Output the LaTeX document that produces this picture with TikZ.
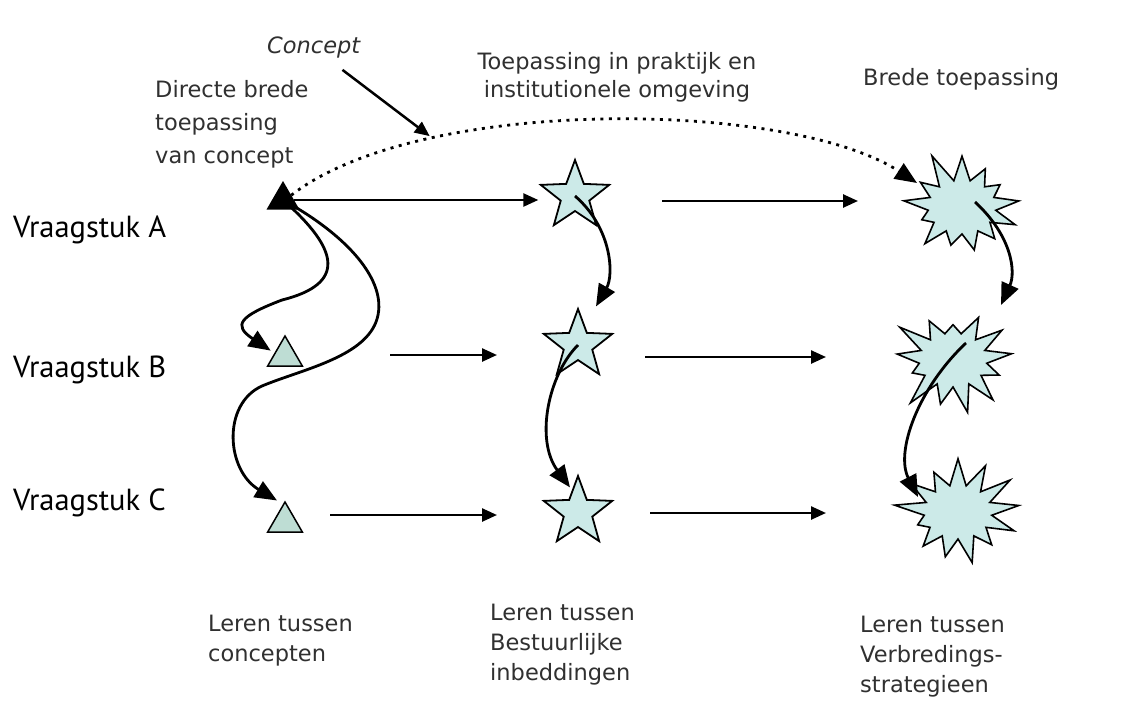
\documentclass[tikz,border=0pt]{standalone}
\usepackage{fontspec}
\setmainfont{DejaVu Sans}
\newfontfamily\vraagfont{PT Sans}
\usepackage{xcolor}
\usetikzlibrary{shapes.geometric,shapes.symbols,arrows.meta}

\definecolor{mint}{HTML}{CCEAE8}
\definecolor{mintgrey}{HTML}{BEDDD4}
\definecolor{inkgrey}{HTML}{303030}

\begin{document}
\begin{tikzpicture}[x=1pt, y=-1pt,
  tri/.style={regular polygon, regular polygon sides=3, draw, line width=1.5pt,
    fill=mintgrey, minimum size=40pt, inner sep=0pt},
  starnode/.style={star, star points=5, star point ratio=2.4, draw, line width=1.8pt,
    fill=mint, minimum size=72pt, inner sep=0pt},
  burst/.style={starburst, starburst points=13, starburst point height=32pt, draw,
    line width=1.6pt, fill=mint, minimum width=132pt, minimum height=118pt, inner sep=0pt},
  arr/.style={-{Triangle[length=15pt, width=13pt]}, line width=2.5pt},
  curv/.style={-{Triangle[length=22pt, width=18pt]}, line width=2.8pt},
  dotarr/.style={-{Triangle[length=22pt, width=18pt]}, line width=2.8pt,
    dash pattern=on 3pt off 5.5pt},
  txt/.style={font=\fontsize{22.5}{30}\selectfont, text=inkgrey, inner sep=0pt, align=left},
  vraag/.style={font=\vraagfont\fontsize{30.5}{36}\selectfont, inner sep=0pt}
]
\useasboundingbox[fill=white] (0,0) rectangle (1123,715);

\node[tri, fill=black, minimum size=35pt] (triA) at (283,200) {};
\node[tri] (triB) at (285,356) {};
\node[tri] (triC) at (285,522) {};
\node[starnode] (starA) at (575,196) {};
\node[starnode] (starB) at (578,345) {};
\node[starnode] (starC) at (578,512) {};
\node[burst, random starburst=11] (burstA) at (962,207) {};
\node[burst, random starburst=23] (burstB) at (953,360) {};
\node[burst, random starburst=37] (burstC) at (958,512) {};

\node[vraag, anchor=base west] (vraagA) at (13,237) {Vraagstuk A};
\node[vraag, anchor=base west] (vraagB) at (13,377) {Vraagstuk B};
\node[vraag, anchor=base west] (vraagC) at (13,510) {Vraagstuk C};

\node[txt, anchor=base west, font=\fontsize{22.5}{31}\selectfont\itshape] (concept) at (267,53) {Concept};
\node[txt, anchor=base west, font=\fontsize{22.5}{33}\selectfont] (direct) at (155,163) {Directe brede\\toepassing\\van concept};
\node[txt, anchor=base, align=center, font=\fontsize{22.5}{28}\selectfont] (praktijk) at (617,97) {Toepassing in praktijk en\\institutionele omgeving};
\node[txt, anchor=base west] (brede) at (863,85) {Brede toepassing};
\node[txt, anchor=base west] (lerenC) at (208,661) {Leren tussen\\concepten};
\node[txt, anchor=base west] (lerenB) at (490,680) {Leren tussen\\Bestuurlijke\\inbeddingen};
\node[txt, anchor=base west] (lerenV) at (860,692) {Leren tussen\\Verbredings-\\strategieen};

\draw[arr] (triA.east) -- (triA.east -| starA.outer point 2);
\foreach \n/\xs/\xe/\y in {a2/662/858/201, b1/390/497/355, b2/645/826/357,
  c1/330/497/515, c2/650/826/513} {
  \coordinate (\n s) at (\xs,\y);
  \coordinate (\n e) at (\xe,\y);
  \draw[arr] (\n s) -- (\n e);
}

\draw[curv] (triA.center) .. controls (340,250) and (346,284) .. (282,300)
  .. controls (240,316) and (232,325) .. ([xshift=-5pt]triB.side 1);
\draw[curv] (triA.center) .. controls (352,238) and (390,285) .. (376,322)
  .. controls (362,358) and (300,370) .. (262,386)
  .. controls (222,404) and (226,470) .. ([xshift=-8pt]triC.corner 1);
\draw[curv] (starA.center) .. controls (612,228) and (614,275) .. ([xshift=18pt]starB.outer point 1);
\draw[curv] (starB.center) .. controls (548,375) and (535,440) .. ([shift={(-8,14)}]starC.outer point 1);
\draw[curv] ([shift={(13,-5)}]burstA.center) .. controls (1012,236) and (1016,272) .. ([shift={(48,-55)}]burstB.center);
\draw[curv] ([shift={(13,-17)}]burstB.center) .. controls (918,388) and (895,452) .. ([shift={(-40,-15)}]burstC.center);

\draw[dotarr] (triA.side 3) .. controls (420,95) and (790,100) .. coordinate[pos=0.26] (cpt) ([shift={(-45,-24)}]burstA.center);
\draw[arr, shorten >=3pt] ([shift={(-18,12)}]concept.south east) -- (cpt);
\end{tikzpicture}
\end{document}
